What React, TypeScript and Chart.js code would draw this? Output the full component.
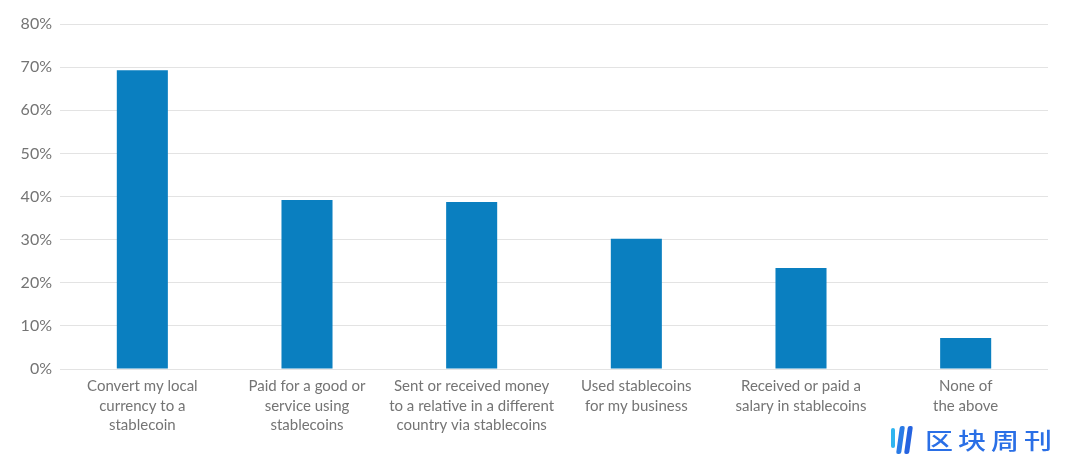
import React, { useEffect, useRef } from "react";
import { Chart, registerables } from "chart.js";

Chart.register(...registerables);

const categories: string[][] = [
  ["Convert my local", "currency to a", "stablecoin"],
  ["Paid for a good or", "service using", "stablecoins"],
  ["Sent or received money", "to a relative in a different", "country via stablecoins"],
  ["Used stablecoins", "for my business"],
  ["Received or paid a", "salary in stablecoins"],
  ["None of", "the above"],
];
const shareValues: number[] = [69.3, 39.2, 38.7, 30.2, 23.4, 7.2];
const yTickValues: number[] = [0, 10, 20, 30, 40, 50, 60, 70, 80];

export default function App() {
  const canvasRef = useRef<HTMLCanvasElement | null>(null);

  useEffect(() => {
    if (!canvasRef.current) return;
    const chart = new Chart(canvasRef.current, {
      type: "bar",
      data: {
        labels: categories,
        datasets: [
          {
            data: shareValues,
            backgroundColor: "#0a7fc0",
            borderWidth: 0,
            categoryPercentage: 1,
            barPercentage: 0.31,
          },
        ],
      },
      options: {
        animation: false,
        responsive: false,
        maintainAspectRatio: false,
        layout: { padding: { top: 24, right: 32, bottom: 0, left: 0 } },
        plugins: { legend: { display: false }, tooltip: { enabled: false } },
        scales: {
          x: {
            grid: { display: false, drawTicks: false },
            border: { display: false },
            ticks: {
              color: "#747474",
              font: { family: "Lato", size: 15, lineHeight: 1.32 },
              padding: 7,
              maxRotation: 0,
              autoSkip: false,
            },
            afterFit: (scale: any) => {
              scale.height = 87;
            },
          },
          y: {
            min: 0,
            max: 80,
            afterBuildTicks: (scale: any) => {
              scale.ticks = yTickValues.map((v) => ({ value: v }));
            },
            grid: { color: "#e3e3e3", lineWidth: 1, drawTicks: false },
            border: { display: false },
            ticks: {
              color: "#747474",
              font: { family: "Lato", size: 16 },
              padding: 8,
              callback: (v: any) => v + "%",
            },
            afterFit: (scale: any) => {
              scale.width = 60;
            },
          },
        },
      },
    });
    return () => chart.destroy();
  }, []);

  return (
    <div style={{ position: "fixed", left: 0, top: 0, width: 1080, height: 456, background: "#fff", overflow: "hidden" }}>
      <canvas ref={canvasRef} width={1080} height={456} style={{ display: "block" }} />
      <div style={{ position: "absolute", left: 889, top: 424, display: "flex", alignItems: "center" }}>
        <div style={{ position: "relative", width: 26, height: 30 }}>
          <div style={{ position: "absolute", left: 2, top: 4, width: 4, height: 20, background: "#2fb5f0", borderRadius: 2 }} />
          <div style={{ position: "absolute", left: 9, top: 2, width: 5, height: 28, background: "#2a7be6", borderRadius: 2, transform: "skewX(-8deg)" }} />
          <div style={{ position: "absolute", left: 17, top: 2, width: 5, height: 28, background: "#2563e0", borderRadius: 2, transform: "skewX(-8deg)" }} />
        </div>
        <div
          style={{
            marginLeft: 10,
            fontFamily: "'Noto Sans CJK SC'",
            fontSize: 28,
            fontWeight: 500,
            lineHeight: "30px",
            letterSpacing: 5,
            color: "#2a6fe6",
            transform: "scaleY(0.8)",
            transformOrigin: "left center",
          }}
        >
          区块周刊
        </div>
      </div>
    </div>
  );
}
